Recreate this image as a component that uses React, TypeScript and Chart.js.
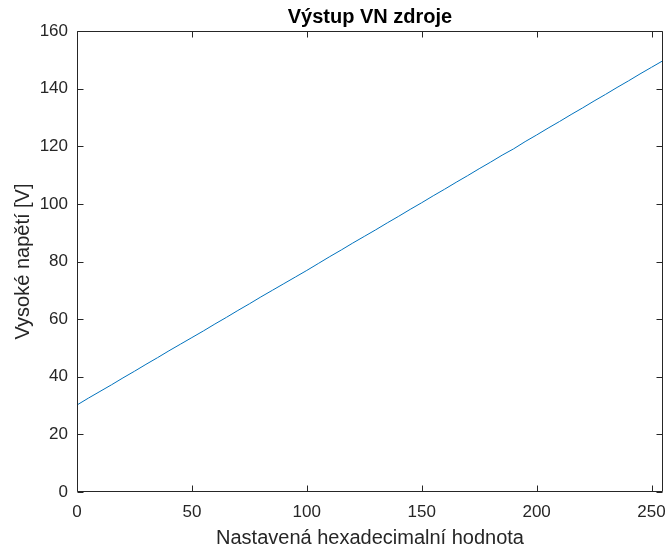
import React, { useEffect, useRef } from 'react';
import { Chart, registerables } from 'chart.js';

Chart.register(...registerables);

const X_VALUES = [
  0, 5, 10, 15, 20, 25, 30, 35, 40, 45, 50, 55, 60, 65, 70, 75, 80, 85, 90, 95,
  100, 105, 110, 115, 120, 125, 130, 135, 140, 145, 150, 155, 160, 165, 170, 175,
  180, 185, 190, 195, 200, 205, 210, 215, 220, 225, 230, 235, 240, 245, 250, 255,
];
const Y_VALUES = [
  30.2, 32.6, 34.9, 37.2, 39.6, 41.9, 44.3, 46.6, 49.0, 51.3, 53.6, 55.9, 58.3, 60.6, 63.0, 65.3, 67.7, 70.0, 72.3, 74.6,
  76.9, 79.3, 81.7, 84.0, 86.4, 88.7, 91.0, 93.4, 95.7, 98.1, 100.4, 102.8, 105.1, 107.5, 109.8, 112.2,
  114.5, 116.9, 119.1, 121.6, 123.9, 126.3, 128.6, 131.0, 133.3, 135.7, 138.0, 140.4, 142.7, 145.1, 147.4, 149.7,
];
const X_TICKS = [0, 50, 100, 150, 200, 250];
const Y_TICKS = [0, 20, 40, 60, 80, 100, 120, 140, 160];
const TITLE = 'Výstup VN zdroje';
const X_LABEL = 'Nastavená hexadecimalní hodnota';
const Y_LABEL = 'Vysoké napětí [V]';

const AXIS_COLOR = '#262626';
const LINE_COLOR = '#0072BD';
const FONT = '"Liberation Sans", Arial, Helvetica, sans-serif';

const matlabAxes = {
  id: 'matlabAxes',
  afterDraw(chart: any) {
    const { ctx, chartArea } = chart;
    const { left, right, top, bottom } = chartArea;
    const xs = chart.scales.x;
    const ys = chart.scales.y;
    const L = Math.round(left) + 0.5;
    const R = Math.round(right) - 0.5;
    const T = Math.round(top) + 0.5;
    const B = Math.round(bottom) - 0.5;
    const tl = 6;
    ctx.save();
    ctx.strokeStyle = AXIS_COLOR;
    ctx.lineWidth = 1;
    ctx.beginPath();
    ctx.rect(L, T, R - L, B - T);
    X_TICKS.forEach((v) => {
      const px = Math.round(xs.getPixelForValue(v)) + 0.5;
      ctx.moveTo(px, B);
      ctx.lineTo(px, B - tl);
      ctx.moveTo(px, T);
      ctx.lineTo(px, T + tl);
    });
    Y_TICKS.forEach((v) => {
      const py = Math.round(ys.getPixelForValue(v)) + 0.5;
      ctx.moveTo(L, py);
      ctx.lineTo(L + tl, py);
      ctx.moveTo(R, py);
      ctx.lineTo(R - tl, py);
    });
    ctx.stroke();

    ctx.fillStyle = '#000000';
    ctx.textAlign = 'center';
    ctx.textBaseline = 'alphabetic';
    ctx.font = `bold 20px ${FONT}`;
    ctx.fillText(TITLE, (left + right) / 2, 23);

    ctx.fillStyle = AXIS_COLOR;
    ctx.font = `20px ${FONT}`;
    ctx.fillText(X_LABEL, (left + right) / 2, 544);

    ctx.save();
    ctx.translate(29, (top + bottom) / 2);
    ctx.rotate(-Math.PI / 2);
    ctx.fillText(Y_LABEL, 0, 0);
    ctx.restore();
    ctx.restore();
  },
};

export default function App() {
  const canvasRef = useRef<HTMLCanvasElement | null>(null);

  useEffect(() => {
    document.body.style.margin = '0';
    const canvas = canvasRef.current;
    if (!canvas) return;
    const chart = new Chart(canvas, {
      type: 'line',
      data: {
        datasets: [
          {
            data: X_VALUES.map((x, i) => ({ x, y: Y_VALUES[i] })),
            borderColor: LINE_COLOR,
            borderWidth: 1,
            pointRadius: 0,
            tension: 0,
            fill: false,
          },
        ],
      },
      options: {
        responsive: false,
        animation: false,
        devicePixelRatio: 1,
        layout: { padding: { left: 0, right: 5, top: 31, bottom: 0 } },
        plugins: {
          legend: { display: false },
          title: { display: false },
          tooltip: { enabled: false },
        },
        scales: {
          x: {
            type: 'linear',
            min: 0,
            max: 255,
            grid: { display: false, drawTicks: false },
            border: { display: false },
            afterBuildTicks: (scale: any) => {
              scale.ticks = X_TICKS.map((value) => ({ value }));
            },
            afterFit: (scale: any) => {
              scale.height = 57;
              scale.paddingLeft = 0;
              scale.paddingRight = 0;
            },
            ticks: {
              color: AXIS_COLOR,
              font: { family: FONT, size: 17 },
              padding: 10,
              maxRotation: 0,
            },
          },
          y: {
            type: 'linear',
            min: 0,
            max: 160,
            grid: { display: false, drawTicks: false },
            border: { display: false },
            afterBuildTicks: (scale: any) => {
              scale.ticks = Y_TICKS.map((value) => ({ value }));
            },
            afterFit: (scale: any) => {
              scale.width = 77;
              scale.paddingTop = 0;
              scale.paddingBottom = 0;
            },
            ticks: {
              color: AXIS_COLOR,
              font: { family: FONT, size: 17 },
              padding: 9,
            },
          },
        },
      },
      plugins: [matlabAxes],
    });
    return () => chart.destroy();
  }, []);

  return (
    <div style={{ position: 'absolute', left: 0, top: 0, width: 668, height: 549, background: '#ffffff' }}>
      <canvas ref={canvasRef} width={668} height={549} style={{ display: 'block' }} />
    </div>
  );
}
